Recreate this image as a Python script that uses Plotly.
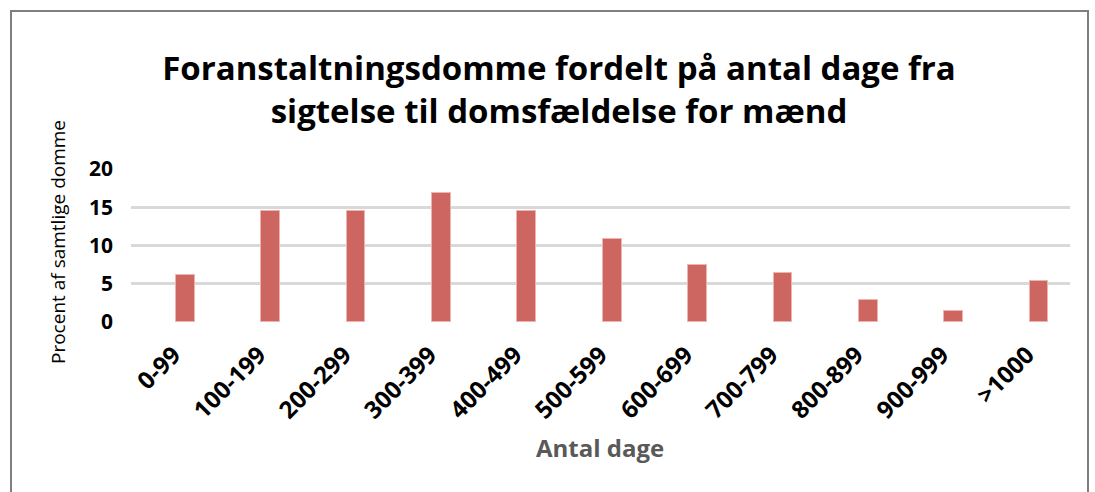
import plotly.graph_objects as go

categories = ["0-99", "100-199", "200-299", "300-399", "400-499", "500-599",
              "600-699", "700-799", "800-899", "900-999", ">1000"]
values = [6.1, 14.5, 14.5, 16.9, 14.5, 10.9, 7.5, 6.4, 2.9, 1.5, 5.4]
y_ticks = [0, 5, 10, 15, 20]

W, H = 1095, 492
L, R, T, B = 131, 25, 169, 170
pw = W - L - R
ph = H - T - B

def px_x(x):
    return (x - L) / pw

def px_y(y):
    return (H - B - y) / ph

fig = go.Figure()
fig.add_trace(go.Bar(
    x=categories, y=values,
    marker=dict(color="#cd6660", line=dict(color="#eeb3ad", width=1)),
    width=0.219, offset=0.027,
))

fig.update_layout(
    width=W, height=H,
    margin=dict(l=L, r=R, t=T, b=B),
    paper_bgcolor="white", plot_bgcolor="white",
    showlegend=False,
    bargap=0,
    title=dict(
        text="Foranstaltningsdomme fordelt på antal dage fra<br>sigtelse til domsfældelse for mænd",
        font=dict(family="Open Sans", size=33, color="black", weight="bold"),
        x=559 / W, xanchor="center", xref="container",
        y=1 - 80 / H, yanchor="middle", yref="container",
    ),
    font=dict(family="Open Sans", color="black"),
)

fig.update_xaxes(
    type="category",
    tickangle=-45,
    tickfont=dict(family="Open Sans", size=24, color="black", weight="bold"),
    showgrid=False, showline=False, zeroline=False,
    ticks="", ticklabelstandoff=13,
)
fig.update_yaxes(
    range=[0, 20],
    tickvals=y_ticks,
    tickfont=dict(family="Open Sans", size=21, color="black", weight="bold"),
    showgrid=True, gridcolor="#d9d9d9", gridwidth=2.5,
    zeroline=False, showline=False, ticks="",
    ticklabelstandoff=17,
)

fig.add_annotation(
    text="Procent af samtlige domme", textangle=-90,
    x=px_x(58), y=px_y(242), xref="paper", yref="paper",
    xanchor="center", yanchor="middle",
    showarrow=False, font=dict(family="Open Sans", size=19, color="black"),
)
fig.add_annotation(
    text="Antal dage",
    x=px_x(600), y=px_y(447), xref="paper", yref="paper",
    xanchor="center", yanchor="middle",
    showarrow=False, font=dict(family="Open Sans", size=24, color="#595959", weight="bold"),
)
fig.add_shape(
    type="rect", xref="paper", yref="paper",
    x0=px_x(11), x1=px_x(1088), y0=px_y(520), y1=px_y(11),
    line=dict(color="#7f7f7f", width=2), fillcolor="rgba(0,0,0,0)", layer="below",
)

fig.write_html("out.html", config={"displayModeBar": False},
               post_script="document.body.style.margin='0';document.body.style.overflow='hidden';")
